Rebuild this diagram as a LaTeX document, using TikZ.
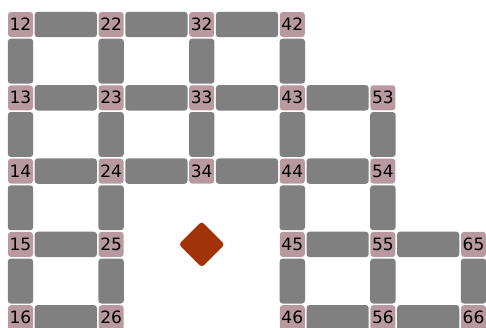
\documentclass[tikz,border=0pt]{standalone}
\usepackage{fontspec}
\setmainfont{DejaVu Sans}
\usetikzlibrary{shapes.geometric}
\definecolor{nodepink}{RGB}{184,153,160}
\definecolor{edgegray}{RGB}{128,128,128}
\definecolor{diamondred}{RGB}{162,50,8}
\begin{document}
\begin{tikzpicture}[x=1pt,y=1pt,
  cell/.style={rectangle, minimum size=25pt, inner sep=0pt, rounded corners=3pt, fill=nodepink, font=\fontsize{17}{18}\selectfont, text=black},
  edgebox/.style={fill=edgegray, rounded corners=3pt},
  gem/.style={diamond, minimum size=46pt, inner sep=0pt, rounded corners=3pt, fill=diamondred}
]
\useasboundingbox (0,0) rectangle (486,-327);
\begin{scope}
\clip (0,0) rectangle (486,-327);
% column centers and row centers
\def\cA{20.5}\def\cB{111.1}\def\cC{201.7}\def\cD{292.3}\def\cE{382.9}\def\cF{473.5}
\def\rB{-24.5}\def\rC{-97.8}\def\rD{-171.1}\def\rE{-244.4}\def\rF{-317.7}
% nodes
\node[cell] (n12) at (\cA,\rB) {12};
\node[cell] (n13) at (\cA,\rC) {13};
\node[cell] (n14) at (\cA,\rD) {14};
\node[cell] (n15) at (\cA,\rE) {15};
\node[cell] (n16) at (\cA,\rF) {16};
\node[cell] (n22) at (\cB,\rB) {22};
\node[cell] (n23) at (\cB,\rC) {23};
\node[cell] (n24) at (\cB,\rD) {24};
\node[cell] (n25) at (\cB,\rE) {25};
\node[cell] (n26) at (\cB,\rF) {26};
\node[cell] (n32) at (\cC,\rB) {32};
\node[cell] (n33) at (\cC,\rC) {33};
\node[cell] (n34) at (\cC,\rD) {34};
\node[cell] (n42) at (\cD,\rB) {42};
\node[cell] (n43) at (\cD,\rC) {43};
\node[cell] (n44) at (\cD,\rD) {44};
\node[cell] (n45) at (\cD,\rE) {45};
\node[cell] (n46) at (\cD,\rF) {46};
\node[cell] (n53) at (\cE,\rC) {53};
\node[cell] (n54) at (\cE,\rD) {54};
\node[cell] (n55) at (\cE,\rE) {55};
\node[cell] (n56) at (\cE,\rF) {56};
\node[cell] (n65) at (\cF,\rE) {65};
\node[cell] (n66) at (\cF,\rF) {66};
\node[gem] (gem) at (\cC,\rE) {};
% horizontal edges
\foreach \a/\b in {12/22,22/32,32/42,13/23,23/33,33/43,43/53,14/24,24/34,34/44,44/54,15/25,45/55,55/65,16/26,46/56,56/66}
  \fill[edgebox] ([xshift=1.5pt]n\a.north east) rectangle ([xshift=-1.5pt]n\b.south west);
% vertical edges
\foreach \a/\b in {12/13,13/14,14/15,15/16,22/23,23/24,24/25,25/26,32/33,33/34,42/43,43/44,44/45,45/46,53/54,54/55,55/56,65/66}
  \fill[edgebox] ([yshift=-1.5pt]n\a.south west) rectangle ([yshift=1.5pt]n\b.north east);
\end{scope}
\end{tikzpicture}
\end{document}
